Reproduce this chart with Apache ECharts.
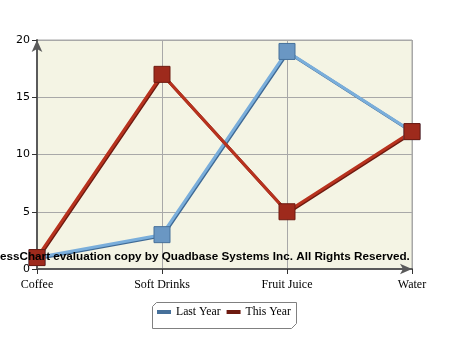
<!DOCTYPE html>
<html><head><meta charset="utf-8">
<script src="https://cdn.jsdelivr.net/npm/echarts@6/dist/echarts.min.js"></script>
<style>html,body{margin:0;padding:0;background:#fff}#c{width:450px;height:350px}</style>
</head><body><div id="c"></div>
<script>
var categories = ['Coffee', 'Soft Drinks', 'Fruit Juice', 'Water'];
var lastYear = [1, 3, 19, 12];
var thisYear = [1, 17, 5, 12];
var yTicks = [0, 5, 10, 15, 20];
var watermark = 'essChart evaluation copy by Quadbase Systems Inc. All Rights Reserved.';

var chart = echarts.init(document.getElementById('c'), null, {renderer: 'canvas'});
chart.setOption({
  animation: false,
  grid: {left: 37, right: 38, top: 40, bottom: 81, show: true, backgroundColor: '#f4f4e4', borderColor: '#a8a8a8', borderWidth: 1},
  xAxis: {
    type: 'category', data: categories, boundaryGap: false,
    axisLine: {show: true, symbol: ['none', 'arrow'], symbolSize: [8, 12], lineStyle: {color: '#5a5a5a', width: 2}},
    axisTick: {show: true, alignWithLabel: true, length: 5, lineStyle: {color: '#333', width: 1}},
    axisLabel: {color: '#000', fontFamily: 'Liberation Serif', fontSize: 12, margin: 10},
    splitLine: {show: true, lineStyle: {color: '#a8a8a8', width: 1}}
  },
  yAxis: {
    type: 'value', min: yTicks[0], max: yTicks[yTicks.length - 1], interval: 5,
    axisLine: {show: true, symbol: ['none', 'arrow'], symbolSize: [8, 12], lineStyle: {color: '#5a5a5a', width: 2}},
    axisTick: {show: true, length: 5, lineStyle: {color: '#333', width: 1}},
    axisLabel: {color: '#000', fontFamily: 'DejaVu Sans', fontSize: 11, margin: 7},
    splitLine: {show: true, lineStyle: {color: '#a8a8a8', width: 1}}
  },
  legend: {
    left: 157, top: 305,
    itemWidth: 12, itemHeight: 2, itemGap: 6,
    icon: 'rect',
    padding: 0,
    textStyle: {color: '#000', fontFamily: 'Liberation Serif', fontSize: 11.7, lineHeight: 14, padding: [0, 0, 0, 1]},
    data: [
      {name: 'Last Year', itemStyle: {color: '#6aa3d8'}},
      {name: 'This Year', itemStyle: {color: '#c0301f'}}
    ]
  },
  series: [
    {name: 'Last Year', type: 'line', data: lastYear, symbol: 'rect', symbolSize: 16,
     lineStyle: {color: '#7aaedb', width: 3, shadowColor: '#3f6a95', shadowBlur: 0, shadowOffsetX: 1, shadowOffsetY: 1},
     itemStyle: {color: '#6a97c3', borderColor: '#46709a', borderWidth: 1}},
    {name: 'This Year', type: 'line', data: thisYear, symbol: 'rect', symbolSize: 16,
     lineStyle: {color: '#b8321e', width: 3, shadowColor: '#6e1a10', shadowBlur: 0, shadowOffsetX: 1, shadowOffsetY: 1},
     itemStyle: {color: '#9e2a1c', borderColor: '#6e1a10', borderWidth: 1}}
  ],
  graphic: [
    {type: 'polygon', z: -1, silent: true,
     shape: {points: [[156.5, 302.5], [296.5, 302.5], [296.5, 323.5], [291.5, 328.5], [152.5, 328.5], [152.5, 306.5]]},
     style: {fill: '#fff', stroke: '#808080', lineWidth: 1}},
    {type: 'text', z: 100, left: 0, top: 251,
     style: {text: watermark, fill: '#000', font: 'bold 11.7px "Liberation Sans", Arial, sans-serif'}}
  ]
});
</script></body></html>
